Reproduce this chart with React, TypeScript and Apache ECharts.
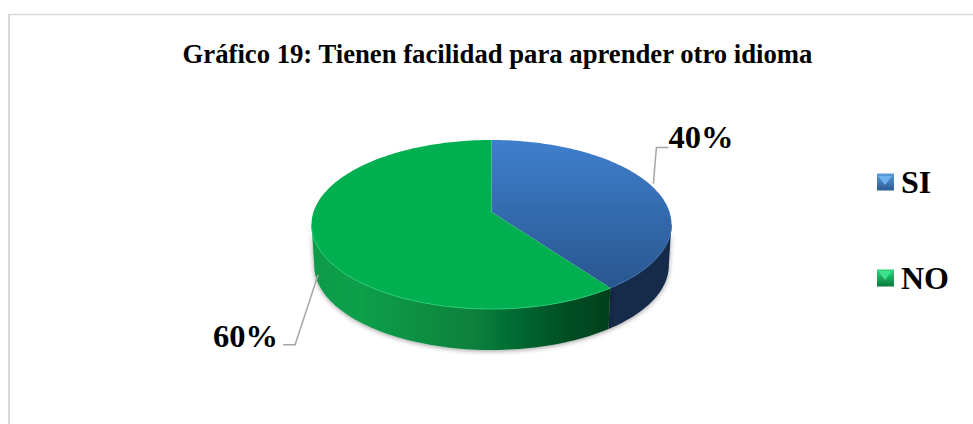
import React, { useEffect, useRef } from "react";
import * as echarts from "echarts";

const titleText = "Gráfico 19: Tienen facilidad para aprender otro idioma";
const categories = ["SI", "NO"];
const values = [40, 60];

const FONT = "'Liberation Serif', 'Times New Roman', serif";
const total = values.reduce((a, b) => a + b, 0);

// perspective disc
const CX = 491.5, APEX_Y = 212, A = 82.65, B = 0.148, C = 178, DEPTH = 41, BOTTOM_SCALE = 0.985;
const FRONT_START = 98.5, FRONT_END = 261.5;

const proj = (deg: number) => {
  const t = (deg * Math.PI) / 180;
  const u = Math.sin(t), v = Math.cos(t), d = 1 + B * v;
  return [CX + (C * u) / d, APEX_Y - (A * v) / d, v];
};
const arc = (from: number, to: number, dy = 0, sx = 1) => {
  const pts: number[][] = [];
  const n = Math.max(2, Math.ceil(Math.abs(to - from) / 1.5));
  for (let i = 0; i <= n; i++) {
    const p = proj(from + ((to - from) * i) / n);
    pts.push([CX + (p[0] - CX) * sx, p[1] + dy]);
  }
  return pts;
};

const grad = (x0: number, y0: number, x1: number, y1: number, stops: [number, string][]) =>
  new echarts.graphic.LinearGradient(x0, y0, x1, y1, stops.map(([offset, color]) => ({ offset, color })));

const topFill = [
  () => grad(0, 0, 0, 1, [[0, "#3f7fcd"], [1, "#29568f"]]),
  () => "#00b050",
];
const wallFill = [
  () => "#14294a",
  () => grad(0, 0, 1, 0, [[0, "#0a9a48"], [0.15, "#0aa04b"], [0.55, "#07803c"], [0.85, "#044f24"], [1, "#033f1c"]]),
];
const rimColor = ["#3a70b0", "#25cc72"];
const legendFill = [
  grad(0, 0, 0, 1, [[0, "#5b9bd8"], [1, "#2c5a94"]]),
  grad(0, 0, 0, 1, [[0, "#2fd47c"], [1, "#0a7a3c"]]),
];
const elbow = [
  [[3, -36], [15, -36]],
  [[-23, 70], [-35, 70]],
];
const labelAt = [
  [15, -47],
  [-40, 61],
];

function renderSlice(index: number) {
  return (_p: any, api: any) => {
    const value = api.value(0);
    const before = api.value(1);
    const start = (before / total) * 360;
    const end = ((before + value) / total) * 360;
    const children: any[] = [];
    const w0 = Math.max(start, FRONT_START), w1 = Math.min(end, FRONT_END);
    if (w1 > w0) {
      children.push({
        type: "polygon",
        shape: { points: [...arc(w0, w1), ...arc(w0, w1, DEPTH, BOTTOM_SCALE).reverse()] },
        style: {
          fill: wallFill[index](),
          shadowBlur: 5,
          shadowColor: "rgba(0,0,0,0.4)",
          shadowOffsetY: 1,
        },
      });
    }
    children.push({
      type: "polygon",
      shape: { points: [[CX, APEX_Y], ...arc(start, end)] },
      style: { fill: topFill[index]() },
    });
    if (w1 > w0) {
      children.push({
        type: "polyline",
        shape: { points: arc(w0, w1) },
        style: { fill: "none", stroke: rimColor[index], lineWidth: 1 },
      });
    }
    const mid = (start + end) / 2;
    const m = proj(mid);
    const ax = m[0] + (m[2] < 0 ? 4 : 0);
    const ay = m[1] + (m[2] < 0 ? 36 : -4);
    const e = elbow[index];
    children.push({
      type: "polyline",
      shape: { points: [[ax, ay], [ax + e[0][0], ay + e[0][1]], [ax + e[1][0], ay + e[1][1]]] },
      style: { fill: "none", stroke: "#a6a6a6", lineWidth: 1.5 },
    });
    children.push({
      type: "text",
      style: {
        text: `${value}%`,
        x: ax + labelAt[index][0],
        y: ay + labelAt[index][1],
        fontFamily: FONT,
        fontWeight: "bold",
        fontSize: 32.5,
        fill: "#000",
        align: index === 0 ? "left" : "right",
        verticalAlign: "middle",
      },
    });
    return { type: "group", children };
  };
}

const legendSheen = (x: number, y: number, color: string) => ({
  type: "polygon",
  z: 50,
  shape: { points: [[x + 1, y + 1], [x + 15, y + 1], [x + 8, y + 10]] },
  style: { fill: color },
});

export default function App() {
  const ref = useRef<HTMLDivElement>(null);
  useEffect(() => {
    document.body.style.margin = "0";
    document.body.style.background = "#fff";
    const chart = echarts.init(ref.current!, undefined, { renderer: "svg" });
    let acc = 0;
    const series = categories.map((name, i) => {
      const before = acc;
      acc += values[i];
      return {
        type: "custom",
        name,
        coordinateSystem: "none",
        color: legendFill[i],
        silent: true,
        data: [[values[i], before]],
        renderItem: renderSlice(i),
      };
    });
    chart.setOption({
      animation: false,
      backgroundColor: "#ffffff",
      title: {
        text: titleText,
        left: 492.5,
        top: 35,
        textAlign: "center",
        textStyle: { fontFamily: FONT, fontWeight: "bold", fontSize: 26.7, color: "#000" },
      },
      legend: {
        orient: "vertical",
        left: 877,
        top: 166,
        padding: 0,
        itemWidth: 17,
        itemHeight: 17,
        itemGap: 64,
        selectedMode: false,
        icon: "rect",
        data: categories,
        textStyle: {
          fontFamily: FONT,
          fontWeight: "bold",
          fontSize: 32,
          color: "#000",
          padding: [0, 0, 0, 2],
        },
      },
      graphic: [
        { type: "line", shape: { x1: 9, y1: 14.5, x2: 973, y2: 14.5 }, style: { stroke: "#d9d9d9", lineWidth: 1.5 } },
        { type: "line", shape: { x1: 9, y1: 14, x2: 9, y2: 424 }, style: { stroke: "#d9d9d9", lineWidth: 2 } },
        legendSheen(877, 175, "#6fb2ee"),
        legendSheen(877, 270, "#3fe08c"),
      ],
      series,
    });
    return () => chart.dispose();
  }, []);
  return <div ref={ref} style={{ position: "fixed", left: 0, top: 0, width: 973, height: 424 }} />;
}
